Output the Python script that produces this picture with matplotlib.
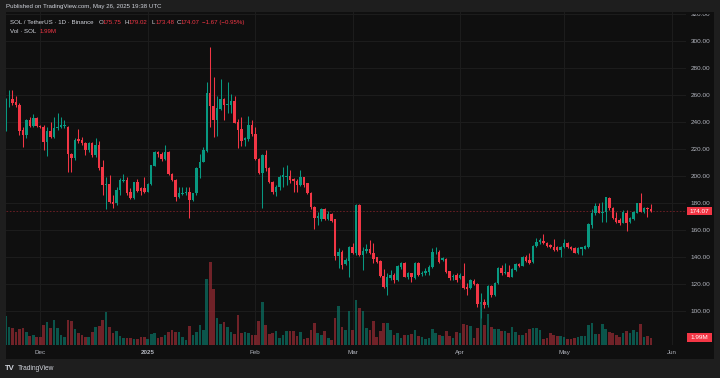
import matplotlib
matplotlib.use("Agg")
import matplotlib.pyplot as plt
import matplotlib.transforms as mtransforms
from matplotlib.patches import Rectangle
from matplotlib.ticker import FuncFormatter
import numpy as np

# ---------------- data (daily candles from 2024-11-21 to 2025-05-26) ----------------
open_ = [234.6, 256.0, 256.8, 254.6, 252.6, 234.1, 230.4, 241.5, 237.0, 242.7,
         237.0, 236.5, 225.4, 233.6, 228.6, 235.3, 236.5, 237.2, 236.5, 216.5,
         213.1, 227.2, 226.7, 224.7, 219.3, 224.2, 215.5, 223.0, 206.4, 193.3,
         194.1, 181.0, 179.8, 189.6, 196.5, 197.0, 188.4, 183.5, 195.3, 190.9,
         190.9, 188.4, 194.1, 207.6, 218.0, 216.3, 212.3, 218.0, 201.5, 197.0,
         184.2, 186.7, 187.2, 188.1, 182.2, 187.2, 205.7, 210.6, 218.8, 261.7,
         251.9, 241.5, 249.6, 257.0, 252.6, 252.6, 255.8, 240.0, 234.6, 226.7,
         227.2, 237.8, 231.1, 212.3, 202.5, 215.6, 205.7, 195.8, 188.4, 192.1,
         199.0, 199.5, 200.0, 197.5, 196.5, 193.3, 199.0, 194.6, 187.7, 177.3,
         168.6, 168.1, 175.3, 168.1, 171.9, 167.9, 140.7, 144.0, 134.6, 137.3,
         147.7, 142.7, 178.5, 141.5, 144.4, 145.9, 142.7, 139.8, 137.0, 125.9,
         117.5, 124.7, 126.7, 123.0, 132.8, 135.8, 125.4, 127.9, 124.7, 135.3,
         127.2, 127.9, 129.1, 132.3, 142.7, 144.0, 137.8, 138.3, 129.9, 125.4,
         126.7, 124.2, 126.2, 117.5, 116.8, 122.5, 120.0, 105.0, 106.9, 104.4,
         118.5, 112.0, 120.5, 132.1, 127.9, 129.1, 125.4, 130.4, 134.8, 133.3,
         139.7, 137.8, 136.5, 148.1, 151.4, 152.1, 150.1, 148.9, 147.6, 147.1,
         145.2, 147.1, 150.6, 147.6, 146.9, 143.2, 146.1, 146.1, 147.1, 163.7,
         172.3, 177.8, 172.8, 173.6, 183.5, 176.0, 169.1, 167.4, 165.4, 172.8,
         166.2, 167.9, 172.8, 179.8, 173.6, 176.3, 175.75]
high = [258.0, 263.7, 263.7, 259.3, 253.8, 236.5, 242.0, 244.0, 245.9, 244.0,
        237.8, 237.8, 236.5, 240.2, 243.5, 246.4, 244.0, 241.5, 237.0, 217.0,
        227.9, 234.6, 229.1, 225.2, 225.4, 225.4, 227.9, 225.9, 211.8, 199.5,
        200.7, 185.9, 192.1, 198.3, 201.5, 199.5, 190.9, 195.8, 197.5, 191.5,
        199.5, 194.6, 208.5, 218.8, 218.8, 218.0, 222.9, 218.8, 202.0, 197.5,
        192.1, 192.1, 191.6, 191.6, 187.6, 206.4, 216.3, 221.7, 269.9, 295.3,
        273.1, 259.3, 271.6, 257.5, 269.9, 260.7, 259.3, 242.0, 243.5, 229.1,
        244.5, 241.5, 236.0, 213.0, 216.5, 219.3, 206.5, 196.5, 193.0, 200.5,
        206.9, 208.1, 204.5, 198.3, 197.5, 204.5, 199.5, 195.1, 188.4, 177.8,
        173.6, 176.0, 176.0, 174.3, 172.3, 168.3, 146.4, 145.2, 139.0, 148.1,
        150.6, 179.5, 179.0, 147.7, 149.4, 152.6, 150.6, 140.2, 137.8, 130.9,
        127.9, 130.4, 128.4, 134.1, 136.5, 136.5, 129.0, 128.5, 136.0, 136.0,
        130.0, 131.6, 134.0, 146.4, 147.7, 145.2, 140.0, 139.0, 130.0, 127.5,
        127.9, 128.0, 135.8, 120.5, 124.0, 123.5, 121.0, 113.1, 109.0, 119.5,
        119.0, 121.5, 132.8, 134.1, 135.8, 134.1, 131.5, 135.5, 135.8, 140.5,
        141.5, 142.7, 148.9, 153.8, 154.0, 157.0, 151.4, 150.0, 153.1, 148.0,
        148.0, 153.1, 151.0, 148.0, 147.6, 147.6, 147.5, 148.9, 165.0, 175.3,
        179.8, 179.8, 181.0, 184.7, 184.2, 177.3, 173.6, 168.6, 174.8, 174.8,
        169.4, 174.3, 180.3, 187.6, 176.8, 177.0, 179.02]
low = [233.5, 251.4, 252.6, 251.4, 230.4, 221.7, 227.9, 236.5, 236.5, 236.5,
       235.3, 219.3, 214.8, 227.9, 227.9, 234.1, 235.3, 235.3, 203.2, 203.2,
       212.1, 224.2, 223.0, 215.5, 218.0, 214.3, 214.3, 204.5, 185.9, 175.3,
       179.8, 176.0, 178.5, 185.9, 195.8, 185.9, 182.7, 183.0, 188.4, 185.9,
       187.2, 187.9, 193.3, 207.4, 214.3, 211.4, 211.9, 201.0, 196.5, 181.7,
       183.5, 185.9, 185.9, 168.6, 181.8, 185.9, 198.3, 210.1, 218.0, 236.5,
       229.2, 229.6, 248.9, 241.5, 246.4, 246.4, 239.0, 220.5, 222.0, 222.2,
       226.0, 230.0, 211.8, 201.5, 176.0, 204.0, 195.0, 187.0, 185.5, 190.0,
       192.1, 193.3, 194.6, 188.4, 188.4, 192.6, 192.1, 186.7, 175.3, 160.5,
       163.7, 167.0, 167.4, 167.4, 166.2, 137.8, 131.6, 130.9, 134.1, 125.4,
       142.0, 141.5, 140.7, 130.4, 142.7, 142.2, 135.3, 135.3, 125.4, 116.8,
       111.9, 123.0, 121.0, 122.5, 131.0, 125.0, 124.0, 121.7, 124.0, 126.0,
       126.0, 127.0, 127.0, 131.6, 142.0, 135.8, 137.0, 128.0, 123.0, 123.0,
       121.7, 123.5, 116.5, 112.0, 116.0, 119.0, 103.2, 95.0, 102.0, 103.0,
       110.5, 111.0, 120.0, 126.7, 127.5, 124.9, 125.0, 130.0, 132.8, 133.0,
       136.5, 134.8, 135.3, 147.2, 150.0, 149.6, 147.1, 146.5, 144.7, 144.5,
       140.2, 146.4, 146.5, 145.5, 142.7, 142.2, 141.5, 145.7, 146.5, 161.2,
       171.0, 172.3, 166.2, 166.2, 175.0, 167.9, 165.0, 163.7, 165.0, 159.5,
       165.0, 167.4, 172.3, 173.1, 172.3, 169.4, 173.48]
close = [255.8, 256.5, 254.3, 252.3, 233.6, 230.4, 241.5, 237.0, 242.7, 237.0,
         236.0, 225.4, 233.6, 228.6, 235.3, 236.5, 237.8, 238.0, 216.5, 213.1,
         226.7, 225.9, 224.2, 219.3, 224.2, 215.5, 223.0, 205.7, 193.3, 194.1,
         181.0, 179.3, 189.6, 197.0, 197.0, 187.6, 183.5, 195.3, 189.1, 189.1,
         188.4, 194.1, 208.1, 218.0, 216.3, 212.3, 218.0, 201.5, 197.0, 184.7,
         187.2, 187.6, 188.1, 182.2, 187.2, 205.7, 210.6, 219.3, 261.7, 251.9,
         241.5, 250.1, 257.0, 252.6, 253.3, 255.8, 239.5, 234.1, 226.2, 227.9,
         237.8, 231.1, 212.3, 202.5, 215.6, 205.7, 195.8, 188.4, 192.1, 199.0,
         200.7, 200.0, 197.0, 196.5, 193.3, 199.0, 193.3, 187.2, 176.8, 168.6,
         170.4, 175.3, 168.1, 171.9, 166.9, 140.7, 144.0, 134.1, 137.8, 147.7,
         143.2, 178.5, 141.5, 144.7, 145.9, 142.7, 138.3, 136.5, 125.9, 117.5,
         125.4, 126.7, 123.0, 133.3, 135.8, 125.4, 128.4, 124.9, 135.3, 126.7,
         128.4, 129.6, 132.8, 144.0, 143.2, 136.5, 139.0, 129.1, 124.2, 126.2,
         123.0, 126.7, 117.3, 116.5, 123.0, 120.0, 105.5, 106.9, 104.4, 118.5,
         111.9, 120.5, 132.1, 127.9, 128.6, 125.4, 130.9, 134.8, 133.3, 139.7,
         137.3, 135.8, 148.1, 151.4, 152.6, 150.1, 148.1, 147.1, 145.2, 145.2,
         147.1, 150.6, 147.1, 146.1, 143.2, 146.4, 147.1, 148.1, 164.4, 172.8,
         177.8, 172.8, 173.6, 184.2, 176.0, 168.6, 166.2, 165.4, 173.6, 164.9,
         168.6, 173.6, 179.8, 173.6, 176.3, 175.75, 174.07]
volume_m = [7.9, 4.8, 4.5, 3.6, 4.4, 4.6, 3.5, 2.5, 2.7, 2.3,
            2.3, 5.5, 6.3, 4.6, 6.8, 4.7, 2.7, 2.2, 6.8, 6.5,
            4.3, 3.4, 2.7, 2.1, 2.1, 3.5, 4.9, 5.2, 6.8, 9.0,
            4.8, 3.3, 3.9, 2.5, 2.0, 1.9, 1.9, 1.5, 1.5, 2.3,
            2.3, 1.6, 3.0, 3.2, 1.8, 2.1, 2.7, 3.5, 4.1, 3.5,
            3.5, 2.1, 1.4, 5.3, 2.7, 3.5, 5.4, 4.1, 18.0, 22.6,
            15.3, 7.3, 5.7, 6.3, 4.8, 3.5, 3.0, 8.2, 3.2, 3.5,
            3.2, 2.7, 2.7, 6.6, 11.7, 5.5, 3.0, 3.2, 3.7, 1.9,
            2.7, 3.8, 3.7, 3.7, 2.4, 3.5, 1.7, 2.0, 4.1, 5.9,
            3.4, 2.7, 3.8, 1.8, 1.3, 7.4, 10.7, 4.8, 4.1, 9.3,
            4.1, 12.3, 10.1,
            9.4, 4.5, 4.1, 6.6, 2.1, 3.8, 6.1, 5.9, 4.1, 2.7,
            3.4, 1.8, 2.7, 2.7, 3.0, 4.1, 2.5, 2.3, 1.5, 1.8,
            4.3, 3.4, 2.7, 2.5, 3.7, 2.5, 1.8, 3.5, 3.4, 5.7,
            5.5, 5.2, 1.8, 4.5, 11.8, 5.5, 8.5, 5.0, 4.3, 4.3,
            3.9, 3.9, 3.4, 4.8, 3.5, 2.7, 2.7, 3.4, 4.4, 4.7,
            4.5, 4.1, 1.7, 1.8, 3.4, 2.7, 2.5, 2.5, 2.1, 1.5,
            1.7, 1.9, 2.1, 2.5, 2.5, 5.5, 5.9, 3.0, 3.0, 5.7,
            4.3, 3.5, 3.4, 2.7, 2.3, 3.2, 3.8, 3.4, 4.1, 3.6,
            5.7, 2.3, 2.5, 1.99]
month_ticks = [10, 41, 72, 100, 131, 161, 192]          # day index of 1st of month
month_labels = ["Dec", "2025", "Feb", "Mar", "Apr", "May", "Jun"]
price_ticks = [100, 120, 140, 160, 180, 200, 220, 240, 260, 280, 300, 320]
last_price = 174.07
last_volume = 1.99
change_abs = -1.67
change_pct = -0.95

# ---------------- style ----------------
UP, DOWN = "#089981", "#f23645"
TXT, AXT = "#d1d4dc", "#b2b5be"
PANEL = "#0f0f0f"
plt.rcParams["font.family"] = ["Liberation Sans", "DejaVu Sans"]

W, H = 720, 378
fig = plt.figure(figsize=(W / 100, H / 100), dpi=100)
fig.patch.set_facecolor("#1e1e1e")
fx = lambda px: px / W
fy = lambda py: 1 - py / H

# chart panel background
fig.add_artist(Rectangle((fx(6), fy(359)), (714 - 6) / W, (359 - 12) / H,
                         transform=fig.transFigure, facecolor=PANEL,
                         edgecolor="none", zorder=-1))

X0, DX = 5.5, 3.47          # pixel of first candle, pixels per day
PL, PR, PT, PB = 6, 686, 12, 345
rect = [fx(PL), fy(PB), (PR - PL) / W, (PB - PT) / H]
xlim = ((PL - X0) / DX, (PR - X0) / DX)
ylim = (300 - (PB - 41) / 1.35, 300 + (41 - PT) / 1.35)

n = len(close)
x = np.arange(n)
o = np.array(open_); c = np.array(close)
hi = np.maximum(np.array(high), np.maximum(o, c))
lo = np.minimum(np.array(low), np.minimum(o, c))
up = c >= o
cols = np.where(up, UP, DOWN)

# price axes (bottom layer: grid + candles)
ax = fig.add_axes(rect)
ax.set_facecolor("none")
ax.set_xlim(*xlim)
ax.set_ylim(*ylim)
for s in ax.spines.values():
    s.set_visible(False)
ax.set_axisbelow(True)
ax.grid(True, color="#1c1c1c", lw=0.8)
ax.set_yticks(price_ticks)
ax.yaxis.tick_right()
ax.yaxis.set_major_formatter(FuncFormatter(lambda v, p: f"{v:.2f}"))
ax.tick_params(axis="y", length=0, pad=3.2, labelsize=4.6, labelcolor=AXT)
ax.set_xticks(month_ticks)
ax.set_xticklabels(month_labels)
ax.tick_params(axis="x", length=0, pad=3.3, labelsize=4.5, labelcolor=AXT)
ax.get_xticklabels()[1].set_fontweight("bold")

ax.vlines(x, lo, hi, colors=cols, lw=0.75, zorder=2)
body = np.maximum(np.abs(c - o), 0.45)
ax.bar(x, body, bottom=np.minimum(o, c), width=0.72, color=cols,
       edgecolor="none", zorder=3)
ax.axhline(last_price, color=DOWN, lw=0.6, ls=(0, (2, 2)), alpha=0.45, zorder=1)

# volume axes (overlay, same x scale)
axv = fig.add_axes(rect, sharex=ax)
axv.set_facecolor("none")
axv.set_ylim(0, (PB - PT) / 3.67)
axv.axis("off")
vcols = np.where(up, "#0a7466", "#9a2b33")
axv.bar(x, volume_m, width=0.76, color=vcols, alpha=0.7, edgecolor="none", zorder=1)

# last price / volume labels on the scale
tp = mtransforms.blended_transform_factory(fig.transFigure, ax.transData)
ax.add_patch(Rectangle((fx(687), last_price - 4.2 / 1.35), 25 / W, 8.4 / 1.35,
                       transform=tp, facecolor=DOWN, edgecolor="none",
                       clip_on=False, zorder=5))
ax.text(fx(699.5), last_price, f"{last_price:.2f}", transform=tp, ha="center",
        va="center", color="white", fontsize=4.6, clip_on=False, zorder=6)
tv = mtransforms.blended_transform_factory(fig.transFigure, axv.transData)
axv.add_patch(Rectangle((fx(687), last_volume - 4.2 / 3.67), 25 / W, 8.4 / 3.67,
                        transform=tv, facecolor=DOWN, edgecolor="none",
                        clip_on=False, zorder=5))
axv.text(fx(699.5), last_volume, f"{last_volume:.2f}M", transform=tv, ha="center",
         va="center", color="white", fontsize=4.6, clip_on=False, zorder=6)

# the top price label is partly hidden at the panel edge
fig.add_artist(Rectangle((fx(686), fy(14.4)), (714 - 686) / W, 2.4 / H,
                         transform=fig.transFigure, facecolor=PANEL,
                         edgecolor="none", zorder=7))
# header bar
fig.add_artist(Rectangle((0, fy(12)), 1, 12 / H, transform=fig.transFigure,
                         facecolor="#1e1e1e", edgecolor="none", zorder=8))
fs = 4.45
fig.text(fx(6), fy(6.8), "Published on TradingView.com, May 26, 2025 19:38 UTC",
         color=TXT, fontsize=fs, va="center", zorder=9)
fig.text(fx(10), fy(22.5), "SOL / TetherUS · 1D · Binance", color=TXT,
         fontsize=fs, va="center", zorder=9)
legend_items = [("O", f"{open_[-1]:.2f}", 98.7), ("H", f"{high[-1]:.2f}", 124.3),
                ("L", f"{low[-1]:.2f}", 151.7), ("C", f"{close[-1]:.2f}", 176.7)]
for lab, val, px in legend_items:
    fig.text(fx(px), fy(22.5), lab, color=TXT, fontsize=fs, va="center", zorder=9)
    fig.text(fx(px + 4.2), fy(22.5), val, color=DOWN, fontsize=fs, va="center", zorder=9)
fig.text(fx(202), fy(22.5),
         f"\u2212{abs(change_abs):.2f} (\u2212{abs(change_pct):.2f}%)",
         color=DOWN, fontsize=fs, va="center", zorder=9)
fig.text(fx(10), fy(31.5), "Vol · SOL", color=TXT, fontsize=fs, va="center", zorder=9)
fig.text(fx(39.3), fy(31.5), f"{last_volume:.2f}M", color=DOWN, fontsize=fs,
         va="center", zorder=9)

# footer logo
fig.text(fx(5), fy(368.5), "TV", color=TXT, fontsize=5.6, fontweight="bold",
         va="center", zorder=9)
fig.text(fx(18), fy(368.5), "TradingView", color=TXT, fontsize=4.8, va="center", zorder=9)

fig.savefig("out.png", dpi=100, facecolor=fig.get_facecolor())
